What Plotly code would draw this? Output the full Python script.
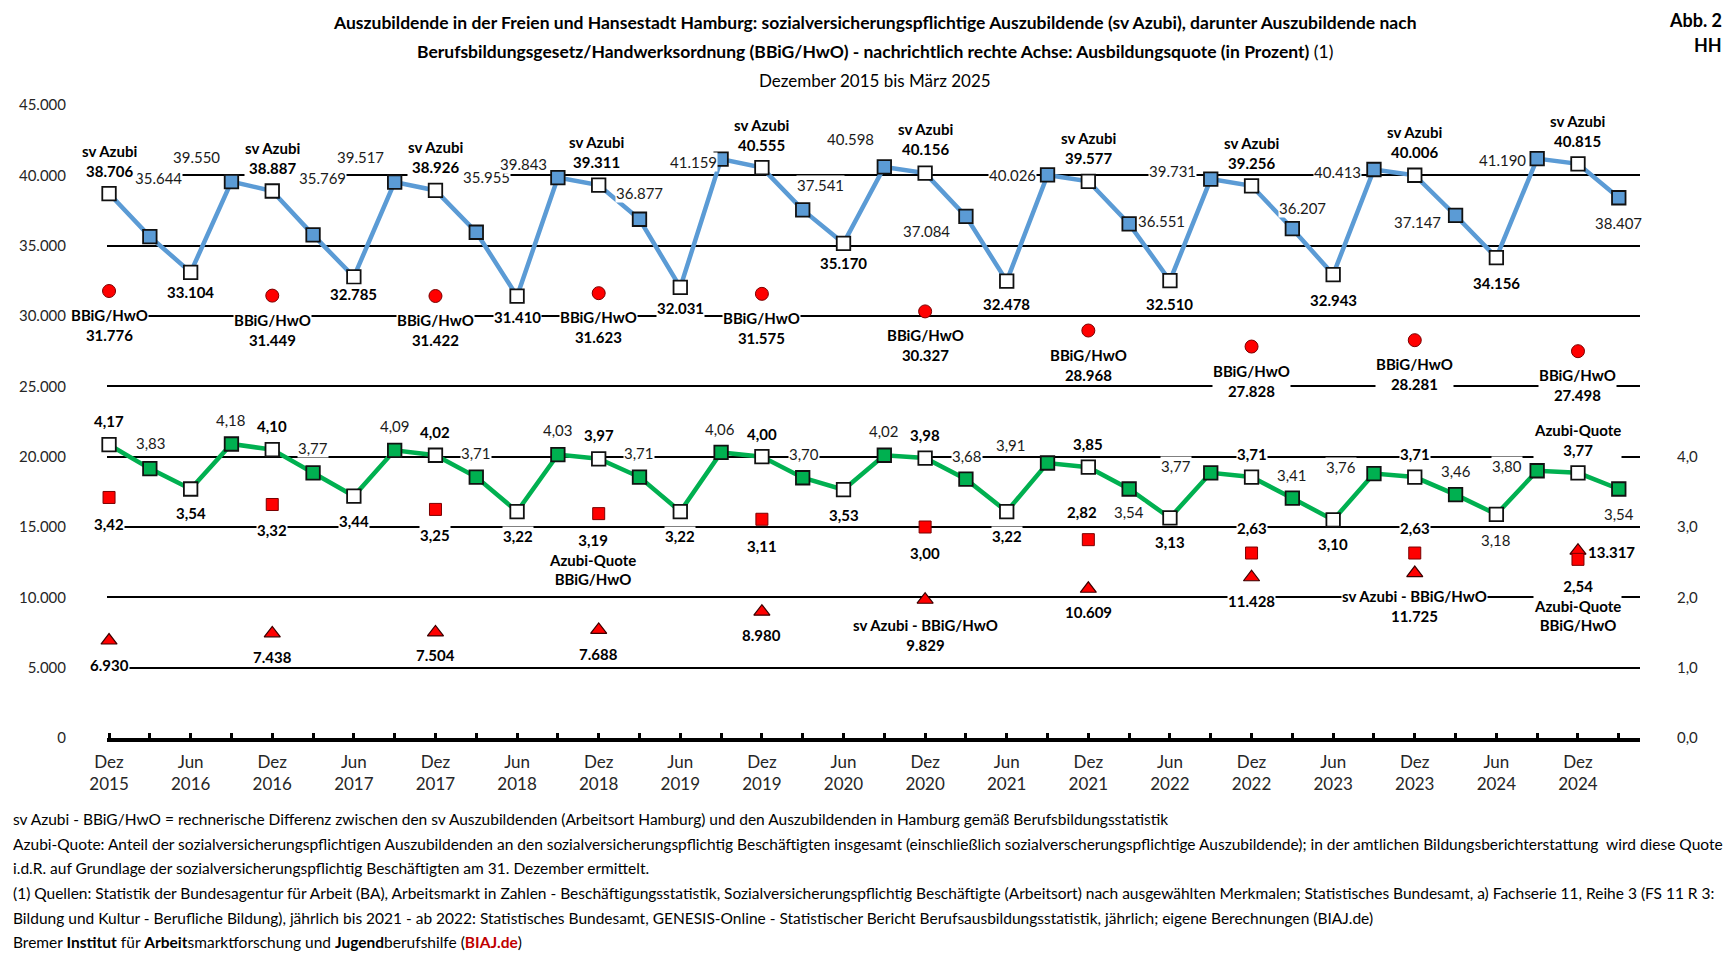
import plotly.graph_objects as go

# ---------------- data ----------------
categories = [
    "Dez 2015", "Mär 2016", "Jun 2016", "Sep 2016",
    "Dez 2016", "Mär 2017", "Jun 2017", "Sep 2017",
    "Dez 2017", "Mär 2018", "Jun 2018", "Sep 2018",
    "Dez 2018", "Mär 2019", "Jun 2019", "Sep 2019",
    "Dez 2019", "Mär 2020", "Jun 2020", "Sep 2020",
    "Dez 2020", "Mär 2021", "Jun 2021", "Sep 2021",
    "Dez 2021", "Mär 2022", "Jun 2022", "Sep 2022",
    "Dez 2022", "Mär 2023", "Jun 2023", "Sep 2023",
    "Dez 2023", "Mär 2024", "Jun 2024", "Sep 2024",
    "Dez 2024", "Mär 2025",
]
x_tick_labels = [
    "Dez<br>2015", "Jun<br>2016", "Dez<br>2016", "Jun<br>2017", "Dez<br>2017",
    "Jun<br>2018", "Dez<br>2018", "Jun<br>2019", "Dez<br>2019", "Jun<br>2020",
    "Dez<br>2020", "Jun<br>2021", "Dez<br>2021", "Jun<br>2022", "Dez<br>2022",
    "Jun<br>2023", "Dez<br>2023", "Jun<br>2024", "Dez<br>2024",
]
dez_categories = ["Dez 2015", "Dez 2016", "Dez 2017", "Dez 2018", "Dez 2019",
                  "Dez 2020", "Dez 2021", "Dez 2022", "Dez 2023", "Dez 2024"]

sv_azubi = [38706, 35644, 33104, 39550, 38887, 35769, 32785, 39517,
            38926, 35955, 31410, 39843, 39311, 36877, 32031, 41159,
            40555, 37541, 35170, 40598, 40156, 37084, 32478, 40026,
            39577, 36551, 32510, 39731, 39256, 36207, 32943, 40413,
            40006, 37147, 34156, 41190, 40815, 38407]
azubi_quote = [4.17, 3.83, 3.54, 4.18, 4.10, 3.77, 3.44, 4.09,
               4.02, 3.71, 3.22, 4.03, 3.97, 3.71, 3.22, 4.06,
               4.00, 3.70, 3.53, 4.02, 3.98, 3.68, 3.22, 3.91,
               3.85, 3.54, 3.13, 3.77, 3.71, 3.41, 3.10, 3.76,
               3.71, 3.46, 3.18, 3.80, 3.77, 3.54]
bbig_hwo = [31776, 31449, 31422, 31623, 31575, 30327, 28968, 27828, 28281, 27498]
bbig_quote = [3.42, 3.32, 3.25, 3.19, 3.11, 3.00, 2.82, 2.63, 2.63, 2.54]
sv_minus_bbig = [6930, 7438, 7504, 7688, 8980, 9829, 10609, 11428, 11725, 13317]

left_ticks = [0, 5000, 10000, 15000, 20000, 25000, 30000, 35000, 40000, 45000]
left_tick_text = ["0", "5.000", "10.000", "15.000", "20.000", "25.000",
                  "30.000", "35.000", "40.000", "45.000"]
right_ticks = [0, 1, 2, 3, 4]
right_tick_text = ["0,0", "1,0", "2,0", "3,0", "4,0"]

# ---------------- label placement (pixel offsets, screen-down dy) ----------------
blue_off = [(0, -33), (9, -59), (0, 20), (-35, -25), (0, -33), (9, -57), (0, 17), (-34, -25),
            (0, -33), (10, -55), (0, 21), (-34, -14), (-2, -33), (0, -26), (0, 21), (-28, 3),
            (0, -33), (18, -25), (0, 20), (-34, -28), (0, -34), (-39, 15), (0, 23), (-35, 0),
            (0, -33), (32, -3), (0, 23), (-38, -8), (0, -33), (10, -21), (0, 25), (-36, 2),
            (0, -33), (-38, 7), (0, 25), (-35, 1), (0, -33), (0, 25)]
green_off = [(0, -24), (1, -26), (0, 24), (0, -24), (0, -24), (0, -25), (0, 25), (0, -24),
             (0, -23), (0, -24), (1, 24), (0, -25), (0, -24), (0, -24), (0, 24), (-1, -23),
             (0, -23), (1, -24), (0, 25), (0, -24), (0, -23), (1, -23), (0, 24), (-37, -18),
             (0, -23), (0, 23), (0, 24), (-35, -7), (0, -23), (0, -23), (0, 24), (-33, -7),
             (0, -23), (0, -24), (0, 26), (-30, -5), (0, -33), (0, 25)]
circ_off = [(0, 34)] * 10
sq_off = [(0, 27), (0, 26), (0, 26), (-6, 46), (0, 27), (0, 26), (-6, -28), (0, -25), (0, -25), (0, 46)]
tri_off = [(0, 24), (0, 24), (0, 23), (0, 24), (0, 23), (0, 35), (0, 23), (0, 24), (0, 33), (34, 1)]

FONT = "Lato"
BLUE = "#5B9BD5"
GREEN = "#00B050"
RED = "#FF0000"
TXT = "#1a1a1a"

# page body has an 8px margin: work in page pixels minus that offset
OFF = 8
W, H = 1732 - 2 * OFF, 961 - 2 * OFF
PL, PR, PT, PB = 107 - OFF, 1640 - OFF, 105 - OFF, 738 - OFF


def px2x(px):
    return (px - OFF - PL) / (PR - PL)


def py2y(py):
    return (PB - (py - OFF)) / (PB - PT)


def de_int(v):
    return f"{v:,}".replace(",", ".")


def de_dec(v):
    return f"{v:.2f}".replace(".", ",")


fig = go.Figure()

marker_blue = ["white" if i % 2 == 0 else BLUE for i in range(len(categories))]
marker_green = ["white" if i % 2 == 0 else GREEN for i in range(len(categories))]
fig.add_trace(go.Scatter(x=categories, y=sv_azubi, mode="lines+markers", yaxis="y",
                         line=dict(color=BLUE, width=4.5), cliponaxis=False,
                         marker=dict(symbol="square", size=13.5, color=marker_blue,
                                     line=dict(color="#111111", width=1.8)),
                         name="sv Azubi", hoverinfo="skip"))
fig.add_trace(go.Scatter(x=categories, y=azubi_quote, mode="lines+markers", yaxis="y2",
                         line=dict(color=GREEN, width=4.5), cliponaxis=False,
                         marker=dict(symbol="square", size=13.5, color=marker_green,
                                     line=dict(color="#111111", width=1.8)),
                         name="Azubi-Quote", hoverinfo="skip"))
fig.add_trace(go.Scatter(x=dez_categories, y=bbig_hwo, mode="markers", yaxis="y", cliponaxis=False,
                         marker=dict(symbol="circle", size=13, color=RED,
                                     line=dict(color="#7a0000", width=1)),
                         name="BBiG/HwO", hoverinfo="skip"))
fig.add_trace(go.Scatter(x=dez_categories, y=bbig_quote, mode="markers", yaxis="y2", cliponaxis=False,
                         marker=dict(symbol="square", size=12, color=RED,
                                     line=dict(color="#7a0000", width=1)),
                         name="Azubi-Quote BBiG/HwO", hoverinfo="skip"))
fig.add_trace(go.Scatter(x=dez_categories, y=sv_minus_bbig, mode="markers", yaxis="y", cliponaxis=False,
                         marker=dict(symbol="triangle-up", size=14, color=RED,
                                     line=dict(color="#3a0000", width=1.2)),
                         name="sv Azubi - BBiG/HwO", hoverinfo="skip"))


def add_label(x, y, text, off, yref="y", bold=False, size=15):
    fig.add_annotation(
        x=x, y=y, xref="x", yref=yref,
        text=(f"<b>{text}</b>" if bold else text),
        showarrow=False, xshift=off[0], yshift=-off[1],
        bgcolor="white", borderpad=0,
        font=dict(family=FONT, size=size, color=("black" if bold else TXT), weight=400),
    )


# non-December labels first, December labels on top
for i, (c, v) in enumerate(zip(categories, sv_azubi)):
    if i % 4 != 0:
        add_label(c, v, de_int(v), blue_off[i], bold=(i % 2 == 0))
for i, (c, v) in enumerate(zip(categories, azubi_quote)):
    if i % 4 != 0:
        add_label(c, v, de_dec(v), green_off[i], yref="y2", bold=(i % 2 == 0 and i != 34))
for i, (c, v) in enumerate(zip(categories, sv_azubi)):
    if i % 4 == 0:
        add_label(c, v, "sv Azubi<br>" + de_int(v), blue_off[i], bold=True)
for i, (c, v) in enumerate(zip(categories, azubi_quote)):
    if i % 4 == 0:
        t = ("Azubi-Quote<br>" + de_dec(v)) if i == 36 else de_dec(v)
        add_label(c, v, t, green_off[i], yref="y2", bold=True)

for i, (c, v) in enumerate(zip(dez_categories, bbig_hwo)):
    add_label(c, v, "BBiG/HwO<br>" + de_int(v), circ_off[i], bold=True)

for i, (c, v) in enumerate(zip(dez_categories, bbig_quote)):
    t = de_dec(v)
    if i in (3, 9):
        t = t + "<br>Azubi-Quote<br>BBiG/HwO"
    add_label(c, v, t, sq_off[i], yref="y2", bold=True)

for i, (c, v) in enumerate(zip(dez_categories, sv_minus_bbig)):
    t = de_int(v)
    if i in (5, 8):
        t = "sv Azubi - BBiG/HwO<br>" + t
    add_label(c, v, t, tri_off[i], bold=True)

# titles
title_font = dict(family=FONT, size=17.5, color="black")
fig.add_annotation(xref="paper", yref="paper", x=px2x(875), y=py2y(22), showarrow=False,
                   text="<b>Auszubildende in der Freien und Hansestadt Hamburg: sozialversicherungspflichtige "
                        "Auszubildende (sv Azubi), darunter Auszubildende nach</b>",
                   font=title_font, xanchor="center", yanchor="middle")
fig.add_annotation(xref="paper", yref="paper", x=px2x(875), y=py2y(51), showarrow=False,
                   text="<b>Berufsbildungsgesetz/Handwerksordnung (BBiG/HwO) - nachrichtlich rechte Achse: "
                        "Ausbildungsquote (in Prozent)</b> (1)",
                   font=title_font, xanchor="center", yanchor="middle")
fig.add_annotation(xref="paper", yref="paper", x=px2x(875), y=py2y(80), showarrow=False,
                   text="Dezember 2015 bis März 2025",
                   font=dict(family=FONT, size=17, color="black"), xanchor="center", yanchor="middle")
fig.add_annotation(xref="paper", yref="paper", x=px2x(1724), y=py2y(20), showarrow=False,
                   text="<b>Abb. 2</b>", font=dict(family=FONT, size=18, color="black"),
                   xanchor="right", yanchor="middle")
fig.add_annotation(xref="paper", yref="paper", x=px2x(1724), y=py2y(45), showarrow=False,
                   text="<b>HH</b>", font=dict(family=FONT, size=18, color="black"),
                   xanchor="right", yanchor="middle")

# footnotes
footnotes = [
    "sv Azubi - BBiG/HwO = rechnerische Differenz zwischen den sv Auszubildenden (Arbeitsort Hamburg) und den "
    "Auszubildenden in Hamburg gemäß Berufsbildungsstatistik",
    "Azubi-Quote: Anteil der sozialversicherungspflichtigen Auszubildenden an den sozialversicherungspflichtig "
    "Beschäftigten insgesamt (einschließlich sozialverscherungspflichtige Auszubildende); in der amtlichen "
    "Bildungsberichterstattung  wird diese Quote",
    "i.d.R. auf Grundlage der sozialversicherungspflichtig Beschäftigten am 31. Dezember ermittelt.",
    "(1) Quellen: Statistik der Bundesagentur für Arbeit (BA), Arbeitsmarkt in Zahlen - Beschäftigungsstatistik, "
    "Sozialversicherungspflichtig Beschäftigte (Arbeitsort) nach ausgewählten Merkmalen; Statistisches Bundesamt, "
    "a) Fachserie 11, Reihe 3 (FS 11 R 3:",
    "Bildung und Kultur - Berufliche Bildung), jährlich bis 2021 - ab 2022: Statistisches Bundesamt, "
    "GENESIS-Online - Statistischer Bericht Berufsausbildungsstatistik, jährlich; eigene Berechnungen (BIAJ.de)",
    "Bremer <b>Institut</b> für <b>Arbeit</b>smarktforschung und <b>Jugend</b>berufshilfe "
    "(<b><span style='color:#C00000'>BIAJ.de</span></b>)",
]
foot_y = [819, 844, 868, 893, 918, 942]
for t, yy in zip(footnotes, foot_y):
    fig.add_annotation(xref="paper", yref="paper", x=px2x(11), y=py2y(yy), showarrow=False,
                       text=t, xanchor="left", yanchor="middle",
                       font=dict(family=FONT, size=15.5, color="black"))

tick_text_full = []
k = 0
for i in range(len(categories)):
    if i % 2 == 0:
        tick_text_full.append(x_tick_labels[k])
        k += 1
    else:
        tick_text_full.append("")

fig.update_layout(
    width=W, height=H,
    margin=dict(l=PL, r=W - PR, t=PT, b=H - PB),
    paper_bgcolor="white", plot_bgcolor="white",
    showlegend=False,
    xaxis=dict(type="category", categoryorder="array", categoryarray=categories,
               range=[-0.05, 37.52], tickmode="array", tickvals=categories, ticktext=tick_text_full,
               ticks="inside", ticklen=5, tickwidth=2.5, tickcolor="black",
               showline=True, linecolor="black", linewidth=3.5, showgrid=False, zeroline=False,
               tickfont=dict(family=FONT, size=17, color="#262626", weight=400),
               ticklabelstandoff=6),
    yaxis=dict(range=[0, 45000], tickmode="array", tickvals=left_ticks, ticktext=left_tick_text,
               showgrid=True, gridcolor="black", gridwidth=2, zeroline=False, showline=False,
               ticks="", tickfont=dict(family=FONT, size=15, color="#262626", weight=400),
               ticklabelstandoff=40),
    yaxis2=dict(range=[0, 9], overlaying="y", side="right", tickmode="array",
                tickvals=right_ticks, ticktext=right_tick_text, showgrid=False, zeroline=False,
                showline=False, ticks="", tickfont=dict(family=FONT, size=15, color="#262626", weight=400),
                ticklabelstandoff=36),
)

fig.write_html("out.html")
